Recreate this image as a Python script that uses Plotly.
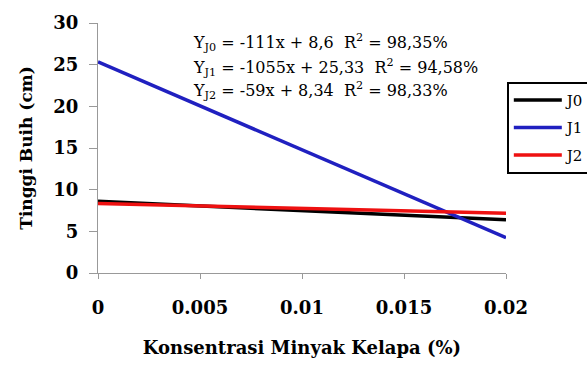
import plotly.graph_objects as go

# Coconut-oil concentration (%) and fitted foam height (cm) for each treatment
konsentrasi = [0, 0.02]
series_names = ["J0", "J1", "J2"]
tinggi_j0 = [8.6, 6.38]
tinggi_j1 = [25.33, 4.23]
tinggi_j2 = [8.34, 7.16]
series_colors = ["#000000", "#2020c0", "#ee1111"]

x_ticks = [0, 0.005, 0.01, 0.015, 0.02]
x_tick_text = ["0", "0.005", "0.01", "0.015", "0.02"]
y_ticks = [0, 5, 10, 15, 20, 25, 30]

equations = [
    "Y<sub>J0</sub> = -111x + 8,6  R<sup>2</sup> = 98,35%",
    "Y<sub>J1</sub> = -1055x + 25,33  R<sup>2</sup> = 94,58%",
    "Y<sub>J2</sub> = -59x + 8,34  R<sup>2</sup> = 98,33%",
]
equation_y = [0.92, 0.822, 0.732]

SERIF = "DejaVu Serif"

fig = go.Figure()
for name, ys, color in zip(series_names, [tinggi_j0, tinggi_j1, tinggi_j2], series_colors):
    fig.add_trace(go.Scatter(
        x=konsentrasi, y=ys, mode="lines", name=name, legendgroup=name,
        line=dict(color=color, width=3.5),
    ))

for text, ypos in zip(equations, equation_y):
    fig.add_annotation(
        xref="paper", yref="paper", x=0.228, y=ypos, xanchor="left", yanchor="middle",
        text=text, showarrow=False, align="left",
        font=dict(family=SERIF, size=16, color="#000"),
    )

fig.update_layout(
    width=587, height=367,
    margin=dict(l=98, r=81, t=23, b=94, autoexpand=False),
    paper_bgcolor="white", plot_bgcolor="white",
    font=dict(family=SERIF, color="#000"),
    showlegend=True,
    legend=dict(
        x=1.002, y=0.765, xanchor="left", yanchor="top",
        bordercolor="#000", borderwidth=2, bgcolor="white",
        font=dict(family=SERIF, size=15, color="#000"),
        tracegroupgap=5, itemwidth=48,
    ),
    xaxis=dict(
        range=[0, 0.02], tickvals=x_ticks, ticktext=x_tick_text,
        showgrid=False, zeroline=False, showline=True, linecolor="#999", linewidth=1,
        ticks="outside", ticklen=5, tickcolor="#999",
        tickfont=dict(family=SERIF, size=18, color="#000", weight="bold"),
        ticklabelstandoff=13,
        title=dict(text="<b>Konsentrasi Minyak Kelapa (%)</b>",
                   font=dict(family=SERIF, size=18, color="#000"), standoff=24),
    ),
    yaxis=dict(
        range=[0, 30], tickvals=y_ticks,
        showgrid=False, zeroline=False, showline=True, linecolor="#999", linewidth=1,
        ticks="outside", ticklen=8, tickcolor="#999",
        tickfont=dict(family=SERIF, size=18, color="#000", weight="bold"),
        ticklabelstandoff=7,
        title=dict(text="<b>Tinggi Buih (cm)</b>",
                   font=dict(family=SERIF, size=17, color="#000"), standoff=16),
    ),
)

fig.write_html("out.html")
